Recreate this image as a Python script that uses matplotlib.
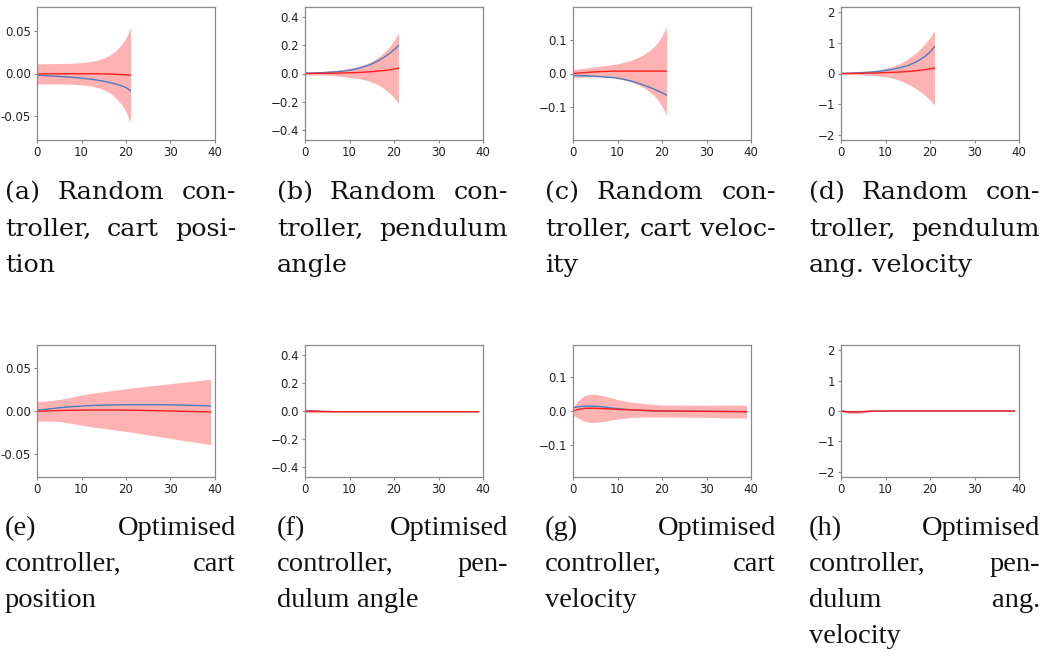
import matplotlib
matplotlib.use("Agg")
import matplotlib.pyplot as plt

W, H = 1046, 653
DPI = 100

# time steps
t_short = list(range(22))
t_long = list(range(40))

# ---- random controller ----
# (a) cart position
a_true = [-0.0020, -0.0022, -0.0025, -0.0028, -0.0031, -0.0034, -0.0037, -0.0041,
          -0.0045, -0.0049, -0.0054, -0.0060, -0.0066, -0.0073, -0.0081, -0.0090,
          -0.0101, -0.0113, -0.0127, -0.0143, -0.0164, -0.0200]
a_mean = [-0.0005, -0.0005, -0.0004, -0.0004, -0.0003, -0.0003, -0.0003, -0.0003,
          -0.0003, -0.0003, -0.0003, -0.0003, -0.0003, -0.0003, -0.0004, -0.0005,
          -0.0006, -0.0008, -0.0010, -0.0013, -0.0016, -0.0020]
a_sd = [0.0118, 0.0118, 0.0118, 0.0118, 0.0119, 0.0119, 0.0120, 0.0121,
        0.0123, 0.0126, 0.0130, 0.0135, 0.0142, 0.0152, 0.0166, 0.0185,
        0.0210, 0.0245, 0.0290, 0.0350, 0.0430, 0.0550]

# (b) pendulum angle
b_true = [0.002, 0.003, 0.004, 0.005, 0.006, 0.008, 0.010, 0.012, 0.015, 0.019,
          0.023, 0.029, 0.036, 0.045, 0.056, 0.068, 0.083, 0.100, 0.120, 0.142,
          0.168, 0.198]
b_mean = [0.000, 0.000, 0.0005, 0.001, 0.0015, 0.002, 0.0025, 0.003, 0.0035, 0.004,
          0.005, 0.006, 0.007, 0.009, 0.011, 0.013, 0.016, 0.019, 0.022, 0.026,
          0.031, 0.038]
b_sd = [0.010, 0.010, 0.011, 0.012, 0.013, 0.015, 0.017, 0.020, 0.023, 0.027,
        0.032, 0.037, 0.043, 0.051, 0.061, 0.074, 0.090, 0.110, 0.135, 0.165,
        0.203, 0.250]

# (c) cart velocity
c_true = [-0.006, -0.006, -0.007, -0.007, -0.008, -0.008, -0.009, -0.010, -0.011, -0.012,
          -0.014, -0.016, -0.019, -0.022, -0.026, -0.030, -0.035, -0.040, -0.045, -0.051,
          -0.057, -0.064]
c_mean = [0.000, 0.001, 0.002, 0.003, 0.004, 0.005, 0.0055, 0.006, 0.0065, 0.007,
          0.007, 0.007, 0.007, 0.007, 0.007, 0.007, 0.007, 0.007, 0.007, 0.007,
          0.007, 0.007]
c_sd = [0.012, 0.012, 0.013, 0.013, 0.014, 0.015, 0.016, 0.017, 0.018, 0.020,
        0.022, 0.025, 0.028, 0.032, 0.037, 0.043, 0.050, 0.059, 0.070, 0.084,
        0.104, 0.131]

# (d) pendulum angular velocity
d_true = [0.000, 0.005, 0.010, 0.016, 0.023, 0.031, 0.040, 0.050, 0.063, 0.080,
          0.100, 0.123, 0.150, 0.180, 0.215, 0.260, 0.320, 0.390, 0.470, 0.570,
          0.700, 0.870]
d_mean = [0.000, 0.001, 0.002, 0.004, 0.006, 0.008, 0.011, 0.014, 0.018, 0.023,
          0.030, 0.035, 0.041, 0.048, 0.056, 0.066, 0.078, 0.092, 0.110, 0.130,
          0.153, 0.180]
d_sd = [0.020, 0.025, 0.030, 0.036, 0.044, 0.053, 0.064, 0.077, 0.093, 0.113,
        0.140, 0.170, 0.210, 0.260, 0.330, 0.410, 0.500, 0.600, 0.720, 0.860,
        1.020, 1.220]

# ---- optimised controller ----
# (e) cart position
e_true = [0.0010, 0.0015, 0.0020, 0.0026, 0.0032, 0.0038, 0.0043, 0.0047, 0.0051, 0.0055,
          0.0058, 0.0061, 0.0064, 0.0066, 0.0068, 0.0069, 0.0070, 0.0071, 0.0072, 0.0072,
          0.0073, 0.0073, 0.0073, 0.0073, 0.0073, 0.0073, 0.0073, 0.0073, 0.0073, 0.0073,
          0.0072, 0.0071, 0.0070, 0.0069, 0.0068, 0.0066, 0.0065, 0.0063, 0.0062, 0.0060]
e_mean = [-0.0005, -0.0003, 0.0000, 0.0002, 0.0004, 0.0006, 0.0007, 0.0008, 0.0009, 0.0010,
          0.0010, 0.0011, 0.0011, 0.0011, 0.0011, 0.0011, 0.0011, 0.0011, 0.0011, 0.0011,
          0.0010, 0.0010, 0.0009, 0.0008, 0.0007, 0.0006, 0.0005, 0.0004, 0.0002, 0.0001,
          0.0000, -0.0001, -0.0003, -0.0004, -0.0005, -0.0006, -0.0008, -0.0009, -0.0010, -0.0011]
e_sd = [0.0115, 0.0116, 0.0118, 0.0120, 0.0124, 0.0130, 0.0138, 0.0147, 0.0157, 0.0167,
        0.0177, 0.0186, 0.0194, 0.0202, 0.0209, 0.0216, 0.0223, 0.0230, 0.0237, 0.0244,
        0.0251, 0.0258, 0.0265, 0.0272, 0.0279, 0.0286, 0.0293, 0.0300, 0.0307, 0.0314,
        0.0321, 0.0328, 0.0335, 0.0342, 0.0349, 0.0356, 0.0363, 0.0370, 0.0377, 0.0384]

# (f) pendulum angle
f_true = [0.003, 0.001, -0.001, -0.002, -0.003, -0.004, -0.004, -0.005, -0.005, -0.005,
          -0.005, -0.005, -0.005, -0.005, -0.005, -0.005, -0.005, -0.005, -0.005, -0.005,
          -0.005, -0.005, -0.005, -0.005, -0.005, -0.005, -0.005, -0.005, -0.005, -0.005,
          -0.005, -0.005, -0.005, -0.005, -0.005, -0.005, -0.005, -0.005, -0.005, -0.005]
f_mean = [0.000, -0.001, -0.002, -0.003, -0.004, -0.004, -0.005, -0.005, -0.005, -0.005,
          -0.005, -0.005, -0.005, -0.005, -0.005, -0.005, -0.005, -0.005, -0.005, -0.005,
          -0.005, -0.005, -0.005, -0.005, -0.005, -0.005, -0.005, -0.005, -0.005, -0.005,
          -0.005, -0.005, -0.005, -0.005, -0.005, -0.005, -0.005, -0.005, -0.005, -0.005]
f_sd = [0.012, 0.012, 0.011, 0.009, 0.006, 0.004, 0.003, 0.002, 0.0015, 0.001,
        0.001, 0.001, 0.001, 0.001, 0.001, 0.001, 0.001, 0.001, 0.001, 0.001,
        0.001, 0.001, 0.001, 0.001, 0.001, 0.001, 0.001, 0.001, 0.001, 0.001,
        0.001, 0.001, 0.001, 0.001, 0.001, 0.001, 0.001, 0.001, 0.001, 0.001]

# (g) cart velocity
g_true = [0.0100, 0.0120, 0.0140, 0.0145, 0.0145, 0.0140, 0.0130, 0.0120, 0.0100, 0.0085,
          0.0070, 0.0058, 0.0047, 0.0037, 0.0028, 0.0020, 0.0013, 0.0008, 0.0004, 0.0001,
          0.0000, -0.0001, -0.0002, -0.0003, -0.0004, -0.0005, -0.0006, -0.0007, -0.0008, -0.0009,
          -0.0010, -0.0011, -0.0012, -0.0013, -0.0014, -0.0015, -0.0016, -0.0017, -0.0018, -0.0019]
g_mean = [0.0000, 0.0040, 0.0070, 0.0080, 0.0080, 0.0080, 0.0075, 0.0070, 0.0065, 0.0060,
          0.0050, 0.0045, 0.0040, 0.0035, 0.0030, 0.0025, 0.0020, 0.0015, 0.0010, 0.0005,
          0.0000, -0.0001, -0.0002, -0.0003, -0.0004, -0.0005, -0.0006, -0.0007, -0.0008, -0.0009,
          -0.0010, -0.0011, -0.0012, -0.0013, -0.0014, -0.0015, -0.0016, -0.0017, -0.0018, -0.0019]
g_sd = [0.012, 0.024, 0.034, 0.040, 0.042, 0.042, 0.040, 0.038, 0.035, 0.032,
        0.029, 0.027, 0.025, 0.023, 0.022, 0.021, 0.020, 0.0195, 0.019, 0.0185,
        0.018, 0.018, 0.018, 0.018, 0.018, 0.018, 0.018, 0.018, 0.018, 0.018,
        0.0182, 0.0184, 0.0186, 0.0188, 0.019, 0.019, 0.019, 0.019, 0.019, 0.019]

# (h) pendulum angular velocity
h_true = [0.000, -0.015, -0.025, -0.028, -0.025, -0.020, -0.013, -0.007, -0.003, -0.001,
          0.000, 0.000, 0.000, 0.000, 0.000, 0.000, 0.000, 0.000, 0.000, 0.000,
          0.000, 0.000, 0.000, 0.000, 0.000, 0.000, 0.000, 0.000, 0.000, 0.000,
          0.000, 0.000, 0.000, 0.000, 0.000, 0.000, 0.000, 0.000, 0.000, 0.000]
h_mean = [0.000, -0.020, -0.030, -0.030, -0.025, -0.020, -0.012, -0.006, -0.003, -0.001,
          0.000, 0.000, 0.000, 0.000, 0.000, 0.000, 0.000, 0.000, 0.000, 0.000,
          0.000, 0.000, 0.000, 0.000, 0.000, 0.000, 0.000, 0.000, 0.000, 0.000,
          0.000, 0.000, 0.000, 0.000, 0.000, 0.000, 0.000, 0.000, 0.000, 0.000]
h_sd = [0.020, 0.040, 0.050, 0.055, 0.050, 0.040, 0.030, 0.018, 0.010, 0.005,
        0.003, 0.002, 0.002, 0.002, 0.002, 0.002, 0.002, 0.002, 0.002, 0.002,
        0.002, 0.002, 0.002, 0.002, 0.002, 0.002, 0.002, 0.002, 0.002, 0.002,
        0.002, 0.002, 0.002, 0.002, 0.002, 0.002, 0.002, 0.002, 0.002, 0.002]

x_ticks = [0, 10, 20, 30, 40]
pos_ticks = [-0.05, 0.0, 0.05]
pos_labels = ["-0.05", "0.00", "0.05"]
ang_ticks = [-0.4, -0.2, 0.0, 0.2, 0.4]
vel_ticks = [-0.1, 0.0, 0.1]
angvel_ticks = [-2, -1, 0, 1, 2]

captions = [
    ["(a) Random con-", "troller, cart posi-", "tion"],
    ["(b) Random con-", "troller, pendulum", "angle"],
    ["(c) Random con-", "troller, cart veloc-", "ity"],
    ["(d) Random con-", "troller, pendulum", "ang. velocity"],
    ["(e) Optimised", "controller, cart", "position"],
    ["(f) Optimised", "controller, pen-", "dulum angle"],
    ["(g) Optimised", "controller, cart", "velocity"],
    ["(h) Optimised", "controller, pen-", "dulum ang.", "velocity"],
]

RED = "#ff1f1f"
BAND = "#ff0000"
BLUE = "#4a7cc0"
SPINE = "#8a8a8a"

fig = plt.figure(figsize=(W / DPI, H / DPI), dpi=DPI)

col_left = [37, 305, 573, 841]
ax_w = 178
row_top = [7, 345]
ax_h = [133, 132]

panels = [
    (t_short, a_true, a_mean, a_sd, 0.0775, pos_ticks, pos_labels),
    (t_short, b_true, b_mean, b_sd, 0.472, ang_ticks, None),
    (t_short, c_true, c_mean, c_sd, 0.197, vel_ticks, None),
    (t_short, d_true, d_mean, d_sd, 2.17, angvel_ticks, None),
    (t_long, e_true, e_mean, e_sd, 0.0775, pos_ticks, pos_labels),
    (t_long, f_true, f_mean, f_sd, 0.472, ang_ticks, None),
    (t_long, g_true, g_mean, g_sd, 0.197, vel_ticks, None),
    (t_long, h_true, h_mean, h_sd, 2.17, angvel_ticks, None),
]

for k, (t, tru, mu, sd, ylim, yt, ytl) in enumerate(panels):
    r, c = divmod(k, 4)
    left = col_left[c] / W
    bottom = 1 - (row_top[r] + ax_h[r]) / H
    ax = fig.add_axes([left, bottom, ax_w / W, ax_h[r] / H])
    lo = [m - s for m, s in zip(mu, sd)]
    hi = [m + s for m, s in zip(mu, sd)]
    ax.fill_between(t, lo, hi, color=BAND, alpha=0.3, linewidth=0)
    ax.plot(t, tru, color=BLUE, lw=1.0)
    ax.plot(t, mu, color=RED, lw=1.0)
    ax.set_xlim(0, 40)
    ax.set_ylim(-ylim, ylim)
    ax.set_xticks(x_ticks)
    ax.set_yticks(yt)
    if ytl is not None:
        ax.set_yticklabels(ytl)
    for sp in ax.spines.values():
        sp.set_color(SPINE)
        sp.set_linewidth(0.9)
    ax.tick_params(labelsize=8.5, colors="#222222", length=2.5, width=0.8, pad=2)
    ax.tick_params(color=SPINE)

# justified sub-captions under each panel
renderer = fig.canvas.get_renderer()
cap_left = [5, 277, 545, 809]
cap_width = 231
cap_base = [199, 535]
line_gap = [36.5, 36.0]
cap_font = ["DejaVu Serif", "Liberation Serif"]
cap_size = [18.3, 20.5]

for k, lines in enumerate(captions):
    r, c = divmod(k, 4)
    x0 = cap_left[c]
    fs = cap_size[r]
    space = 0.28 * fs * DPI / 72
    for i, line in enumerate(lines):
        y = 1 - (cap_base[r] + i * line_gap[r]) / H
        words = line.split(" ")
        texts = [fig.text(0, y, w, fontsize=fs, family=cap_font[r],
                          va="baseline", ha="left", color="#111111") for w in words]
        widths = [tx.get_window_extent(renderer).width for tx in texts]
        last = (i == len(lines) - 1)
        if last or len(words) == 1:
            gap = space
        else:
            gap = (cap_width - sum(widths)) / (len(words) - 1)
        x = x0
        for tx, wd in zip(texts, widths):
            tx.set_x(x / W)
            x += wd + gap

fig.savefig("out.png", dpi=DPI)
